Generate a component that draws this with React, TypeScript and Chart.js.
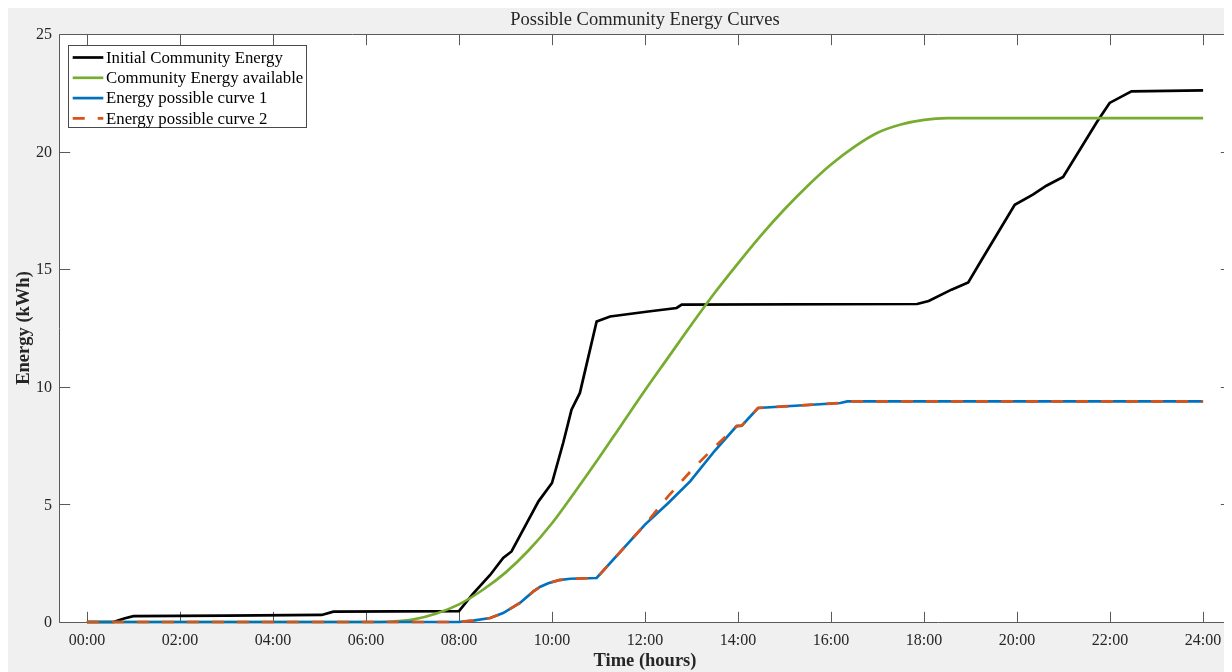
import React, { useEffect, useRef } from 'react';
import Chart from 'chart.js/auto';

// ---------- text ----------
const chartTitle = 'Possible Community Energy Curves';
const xAxisLabel = 'Time (hours)';
const yAxisLabel = 'Energy (kWh)';
const seriesNames = [
  'Initial Community Energy',
  'Community Energy available',
  'Energy possible curve 1',
  'Energy possible curve 2',
];

// ---------- ticks ----------
const xTickHours = [0, 2, 4, 6, 8, 10, 12, 14, 16, 18, 20, 22, 24];
const yTickValues = [0, 5, 10, 15, 20, 25];
const xMin = -0.6;
const xMax = 24.6;
const yMin = 0;
const yMax = 25;

// ---------- data (hours, kWh) ----------
const initialHours = [0, 0.57, 0.8, 1.0, 3.0, 5.05, 5.3, 8.0, 8.3, 8.67, 8.95, 9.13, 9.46, 9.71, 10.0, 10.24, 10.42, 10.6, 10.96, 11.25, 12.07, 12.68, 12.79, 17.85, 18.1, 18.59, 18.95, 19.24, 19.95, 20.34, 20.63, 20.99, 21.71, 21.99, 22.46, 24.0];
const initialEnergy = [0, 0, 0.15, 0.25, 0.27, 0.3, 0.44, 0.46, 1.2, 2.0, 2.72, 3.0, 4.21, 5.13, 5.91, 7.61, 9.03, 9.74, 12.78, 12.99, 13.2, 13.35, 13.49, 13.52, 13.65, 14.13, 14.44, 15.4, 17.74, 18.17, 18.55, 18.92, 21.24, 22.07, 22.56, 22.6];

const availableHours = [0, 6.0, 6.5, 7.0, 7.5, 8.0, 8.5, 9.0, 9.5, 10.0, 10.5, 11.0, 11.5, 12.0, 12.5, 13.0, 13.5, 14.0, 14.5, 15.0, 15.5, 16.0, 16.5, 17.0, 17.5, 18.0, 18.5, 24.0];
const availableEnergy = [0, 0, 0.01, 0.1, 0.35, 0.75, 1.35, 2.1, 3.05, 4.2, 5.55, 6.95, 8.4, 9.85, 11.25, 12.65, 14.0, 15.25, 16.45, 17.55, 18.55, 19.45, 20.2, 20.8, 21.15, 21.35, 21.42, 21.42];

const curve1Hours = [0, 8.0, 8.3, 8.67, 8.95, 9.31, 9.6, 9.75, 9.92, 10.15, 10.39, 10.96, 12.0, 12.5, 12.97, 13.5, 13.97, 14.08, 14.43, 16.2, 16.35, 24.0];
const curve1Energy = [0, 0, 0.06, 0.17, 0.38, 0.81, 1.3, 1.5, 1.65, 1.78, 1.84, 1.87, 4.14, 5.06, 5.98, 7.28, 8.33, 8.35, 9.1, 9.31, 9.38, 9.38];

const curve2Hours = [0, 8.0, 8.3, 8.67, 8.95, 9.31, 9.6, 9.75, 9.92, 10.15, 10.39, 10.96, 12.0, 12.5, 13.0, 13.5, 13.97, 14.08, 14.43, 16.2, 16.35, 24.0];
const curve2Energy = [0, 0, 0.06, 0.17, 0.38, 0.81, 1.3, 1.5, 1.65, 1.78, 1.84, 1.87, 4.14, 5.35, 6.45, 7.45, 8.33, 8.35, 9.1, 9.31, 9.38, 9.38];

// ---------- style ----------
const colors = ['#000000', '#77AC30', '#0072BD', '#D95319'];
const serif = "'Liberation Serif', 'Times New Roman', serif";
const axisColor = '#5a5a5a';
const textColor = '#262626';
const dashPattern = [12, 13];

const toPoints = (xs: number[], ys: number[]) => xs.map((x, i) => ({ x, y: ys[i] }));
const fmtHour = (h: number) => `${String(h).padStart(2, '0')}:00`;

const matlabPlugin = {
  id: 'matlabAxes',
  beforeDraw(chart: any) {
    const { ctx, width, height, chartArea: a } = chart;
    ctx.save();
    ctx.fillStyle = '#f0f0f0';
    ctx.fillRect(0, 0, width, height);
    ctx.fillStyle = '#ffffff';
    ctx.fillRect(a.left, a.top, a.right - a.left, a.bottom - a.top);
    ctx.restore();
  },
  beforeDatasetsDraw(chart: any) {
    const { ctx, chartArea: a, scales } = chart;
    const xs = scales.x;
    const ys = scales.y;
    const L = Math.round(a.left) + 0.5;
    const R = Math.round(a.right) + 0.5;
    const T = Math.round(a.top) + 0.5;
    const B = Math.round(a.bottom) + 0.5;
    const tl = 10.7;
    ctx.save();
    ctx.strokeStyle = axisColor;
    ctx.lineWidth = 1;
    ctx.beginPath();
    ctx.rect(L, T, R - L, B - T);
    for (const h of xTickHours) {
      const px = Math.round(xs.getPixelForValue(h)) + 0.5;
      ctx.moveTo(px, B);
      ctx.lineTo(px, B - tl);
      ctx.moveTo(px, T);
      ctx.lineTo(px, T + tl);
    }
    for (const v of yTickValues) {
      const py = Math.round(ys.getPixelForValue(v)) + 0.5;
      ctx.moveTo(L, py);
      ctx.lineTo(L + tl, py);
      ctx.moveTo(R, py);
      ctx.lineTo(R - tl, py);
    }
    ctx.stroke();

    // tick labels
    ctx.fillStyle = textColor;
    ctx.font = `16px ${serif}`;
    ctx.textAlign = 'center';
    ctx.textBaseline = 'middle';
    for (const h of xTickHours) {
      ctx.fillText(fmtHour(h), xs.getPixelForValue(h), a.bottom + 19);
    }
    ctx.textAlign = 'right';
    for (const v of yTickValues) {
      ctx.fillText(String(v), a.left - 7, ys.getPixelForValue(v) + 1);
    }

    // title and axis labels
    const cx = (a.left + a.right) / 2;
    ctx.textAlign = 'center';
    ctx.font = `18.5px ${serif}`;
    ctx.fillText(chartTitle, cx, 12.5);
    ctx.font = `bold 18.5px ${serif}`;
    ctx.fillText(xAxisLabel, cx, a.bottom + 39);
    ctx.save();
    ctx.translate(16, (a.top + a.bottom) / 2);
    ctx.rotate(-Math.PI / 2);
    ctx.fillText(yAxisLabel, 0, 0);
    ctx.restore();
    ctx.restore();
  },
  afterDraw(chart: any) {
    const { ctx } = chart;
    const bx = 60.5, by = 37.5, bw = 238, bh = 82;
    ctx.save();
    ctx.fillStyle = '#ffffff';
    ctx.fillRect(bx, by, bw, bh);
    ctx.strokeStyle = '#4a4a4a';
    ctx.lineWidth = 1;
    ctx.strokeRect(bx, by, bw, bh);
    ctx.font = `16.8px ${serif}`;
    ctx.textAlign = 'left';
    ctx.textBaseline = 'middle';
    seriesNames.forEach((name, i) => {
      const y = 49.5 + i * 20.3;
      ctx.beginPath();
      ctx.strokeStyle = colors[i];
      ctx.lineWidth = 2.7;
      ctx.setLineDash(i === 3 ? dashPattern : []);
      ctx.moveTo(64.7, y);
      ctx.lineTo(95.3, y);
      ctx.stroke();
      ctx.setLineDash([]);
      ctx.fillStyle = '#000000';
      ctx.fillText(name, 98, y + 1);
    });
    ctx.restore();
  },
};

export default function App() {
  const canvasRef = useRef<HTMLCanvasElement | null>(null);

  useEffect(() => {
    document.documentElement.style.overflow = 'hidden';
    document.body.style.overflow = 'hidden';
    const canvas = canvasRef.current;
    if (!canvas) return;
    const common = { fill: false, pointRadius: 0, borderWidth: 2.7, tension: 0, clip: false as any };
    const chart = new Chart(canvas, {
      type: 'line',
      data: {
        datasets: [
          { ...common, label: seriesNames[0], data: toPoints(initialHours, initialEnergy), borderColor: colors[0], order: 4 },
          { ...common, label: seriesNames[1], data: toPoints(availableHours, availableEnergy), borderColor: colors[1], cubicInterpolationMode: 'monotone', order: 3 },
          { ...common, label: seriesNames[2], data: toPoints(curve1Hours, curve1Energy), borderColor: colors[2], order: 2 },
          { ...common, label: seriesNames[3], data: toPoints(curve2Hours, curve2Energy), borderColor: colors[3], borderDash: dashPattern, order: 1 },
        ],
      },
      options: {
        animation: false,
        responsive: false,
        maintainAspectRatio: false,
        layout: { padding: { left: 51, right: 1, top: 26, bottom: 50 } },
        plugins: { legend: { display: false }, tooltip: { enabled: false }, title: { display: false } },
        scales: {
          x: { type: 'linear', min: xMin, max: xMax, display: false },
          y: { type: 'linear', min: yMin, max: yMax, display: false },
        },
      },
      plugins: [matlabPlugin],
    });
    return () => chart.destroy();
  }, []);

  return <canvas ref={canvasRef} width={1224} height={664} style={{ display: 'block', width: 1224, height: 664 }} />;
}
